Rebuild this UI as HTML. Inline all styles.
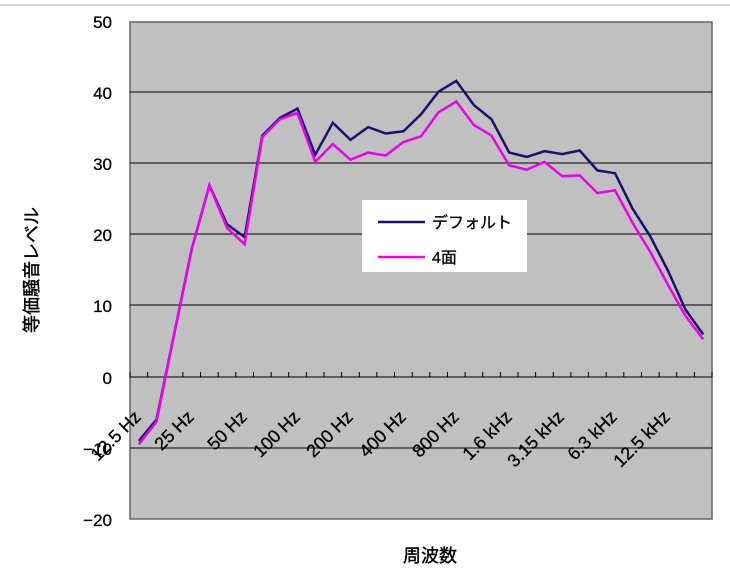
<!DOCTYPE html>
<html><head><meta charset="utf-8"><style>
html,body{margin:0;padding:0;background:#fff;}
svg{display:block;font-family:"Liberation Sans","Noto Sans CJK JP",sans-serif;}
</style></head><body>
<svg width="730" height="580" viewBox="0 0 730 580" xmlns="http://www.w3.org/2000/svg">
<line x1="0" y1="5" x2="730" y2="5" stroke="#aaa" stroke-width="1"/>
<rect x="130" y="22" width="582" height="497" fill="#c0c0c0" stroke="#666" stroke-width="1.5"/>
<g stroke="#000" stroke-width="1">
<line x1="130" y1="92" x2="712" y2="92"/>
<line x1="130" y1="163" x2="712" y2="163"/>
<line x1="130" y1="234" x2="712" y2="234"/>
<line x1="130" y1="305" x2="712" y2="305"/>
<line x1="130" y1="377" x2="712" y2="377"/>
<line x1="130" y1="448" x2="712" y2="448"/>
</g>
<path stroke="#000" stroke-width="1" fill="none" d="M130 372V377M147.6 372V377M165.3 372V377M182.9 372V377M200.5 372V377M218.2 372V377M235.8 372V377M253.5 372V377M271.1 372V377M288.7 372V377M306.4 372V377M324 372V377M341.6 372V377M359.3 372V377M376.9 372V377M394.5 372V377M412.2 372V377M429.8 372V377M447.5 372V377M465.1 372V377M482.7 372V377M500.4 372V377M518 372V377M535.6 372V377M553.3 372V377M570.9 372V377M588.5 372V377M606.2 372V377M623.8 372V377M641.5 372V377M659.1 372V377M676.7 372V377M694.4 372V377M712 372V377"/>
<g font-size="17" text-anchor="end" fill="#000" stroke="#000" stroke-width="0.3">
<text x="112" y="28">50</text><text x="112" y="99">40</text><text x="112" y="170">30</text>
<text x="112" y="241">20</text><text x="112" y="312">10</text><text x="112" y="384">0</text>
<text x="112" y="455">−10</text><text x="112" y="526">−20</text>
</g>
<g font-size="18" text-anchor="end" fill="#000" stroke="#000" stroke-width="0.3">
<text transform="translate(142,418) rotate(-45)">12.5 Hz</text>
<text transform="translate(195,418) rotate(-45)">25 Hz</text>
<text transform="translate(248,418) rotate(-45)">50 Hz</text>
<text transform="translate(301,418) rotate(-45)">100 Hz</text>
<text transform="translate(354,418) rotate(-45)">200 Hz</text>
<text transform="translate(407,418) rotate(-45)">400 Hz</text>
<text transform="translate(460,418) rotate(-45)">800 Hz</text>
<text transform="translate(513,418) rotate(-45)">1.6 kHz</text>
<text transform="translate(565,418) rotate(-45)">3.15 kHz</text>
<text transform="translate(618,418) rotate(-45)">6.3 kHz</text>
<text transform="translate(671,418) rotate(-45)">12.5 kHz</text>
</g>
<polyline id="p1" fill="none" stroke="#1a1070" stroke-width="2.5"/>
<polyline id="p2" fill="none" stroke="#ee00ee" stroke-width="2.5"/>
<rect x="362" y="200" width="165" height="72" fill="#fff"/>
<line x1="378" y1="222" x2="425" y2="222" stroke="#1a1070" stroke-width="2.5"/>
<line x1="378" y1="257" x2="425" y2="257" stroke="#ee00ee" stroke-width="2.5"/>
<text x="432" y="228" font-size="16" stroke="#000" stroke-width="0.3">デフォルト</text>
<text x="432" y="263" font-size="16" stroke="#000" stroke-width="0.3">4面</text>
<text x="430" y="562" font-size="18" text-anchor="middle" stroke="#000" stroke-width="0.4">周波数</text>
<text transform="translate(38,270) rotate(-90)" font-size="18" text-anchor="middle" stroke="#000" stroke-width="0.4">等価騒音レベル</text>
<script>
var d1=[-9,-6,6,18,27,21.5,19.7,34,36.5,37.8,31.3,35.8,33.4,35.2,34.3,34.6,37,40.2,41.7,38.3,36.3,31.6,31,31.8,31.4,31.9,29.1,28.7,23.7,19.8,15,9.5,6];
var d2=[-9.5,-6.3,6,18,27,21,18.7,33.8,36.3,37.2,30.3,32.8,30.6,31.6,31.2,33.1,33.9,37.3,38.8,35.5,34,29.8,29.2,30.3,28.3,28.4,25.9,26.3,21.7,17.6,13,8.6,5.3];
var step=582/33;
function X(i){return 130+step/2+step*i;}
function Y(v){return 377-v*7.1;}
function pts(d){return d.map(function(v,i){return X(i).toFixed(1)+","+Y(v).toFixed(1);}).join(" ");}
document.getElementById("p1").setAttribute("points",pts(d1));
document.getElementById("p2").setAttribute("points",pts(d2));
</script>
</svg>
</body></html>
